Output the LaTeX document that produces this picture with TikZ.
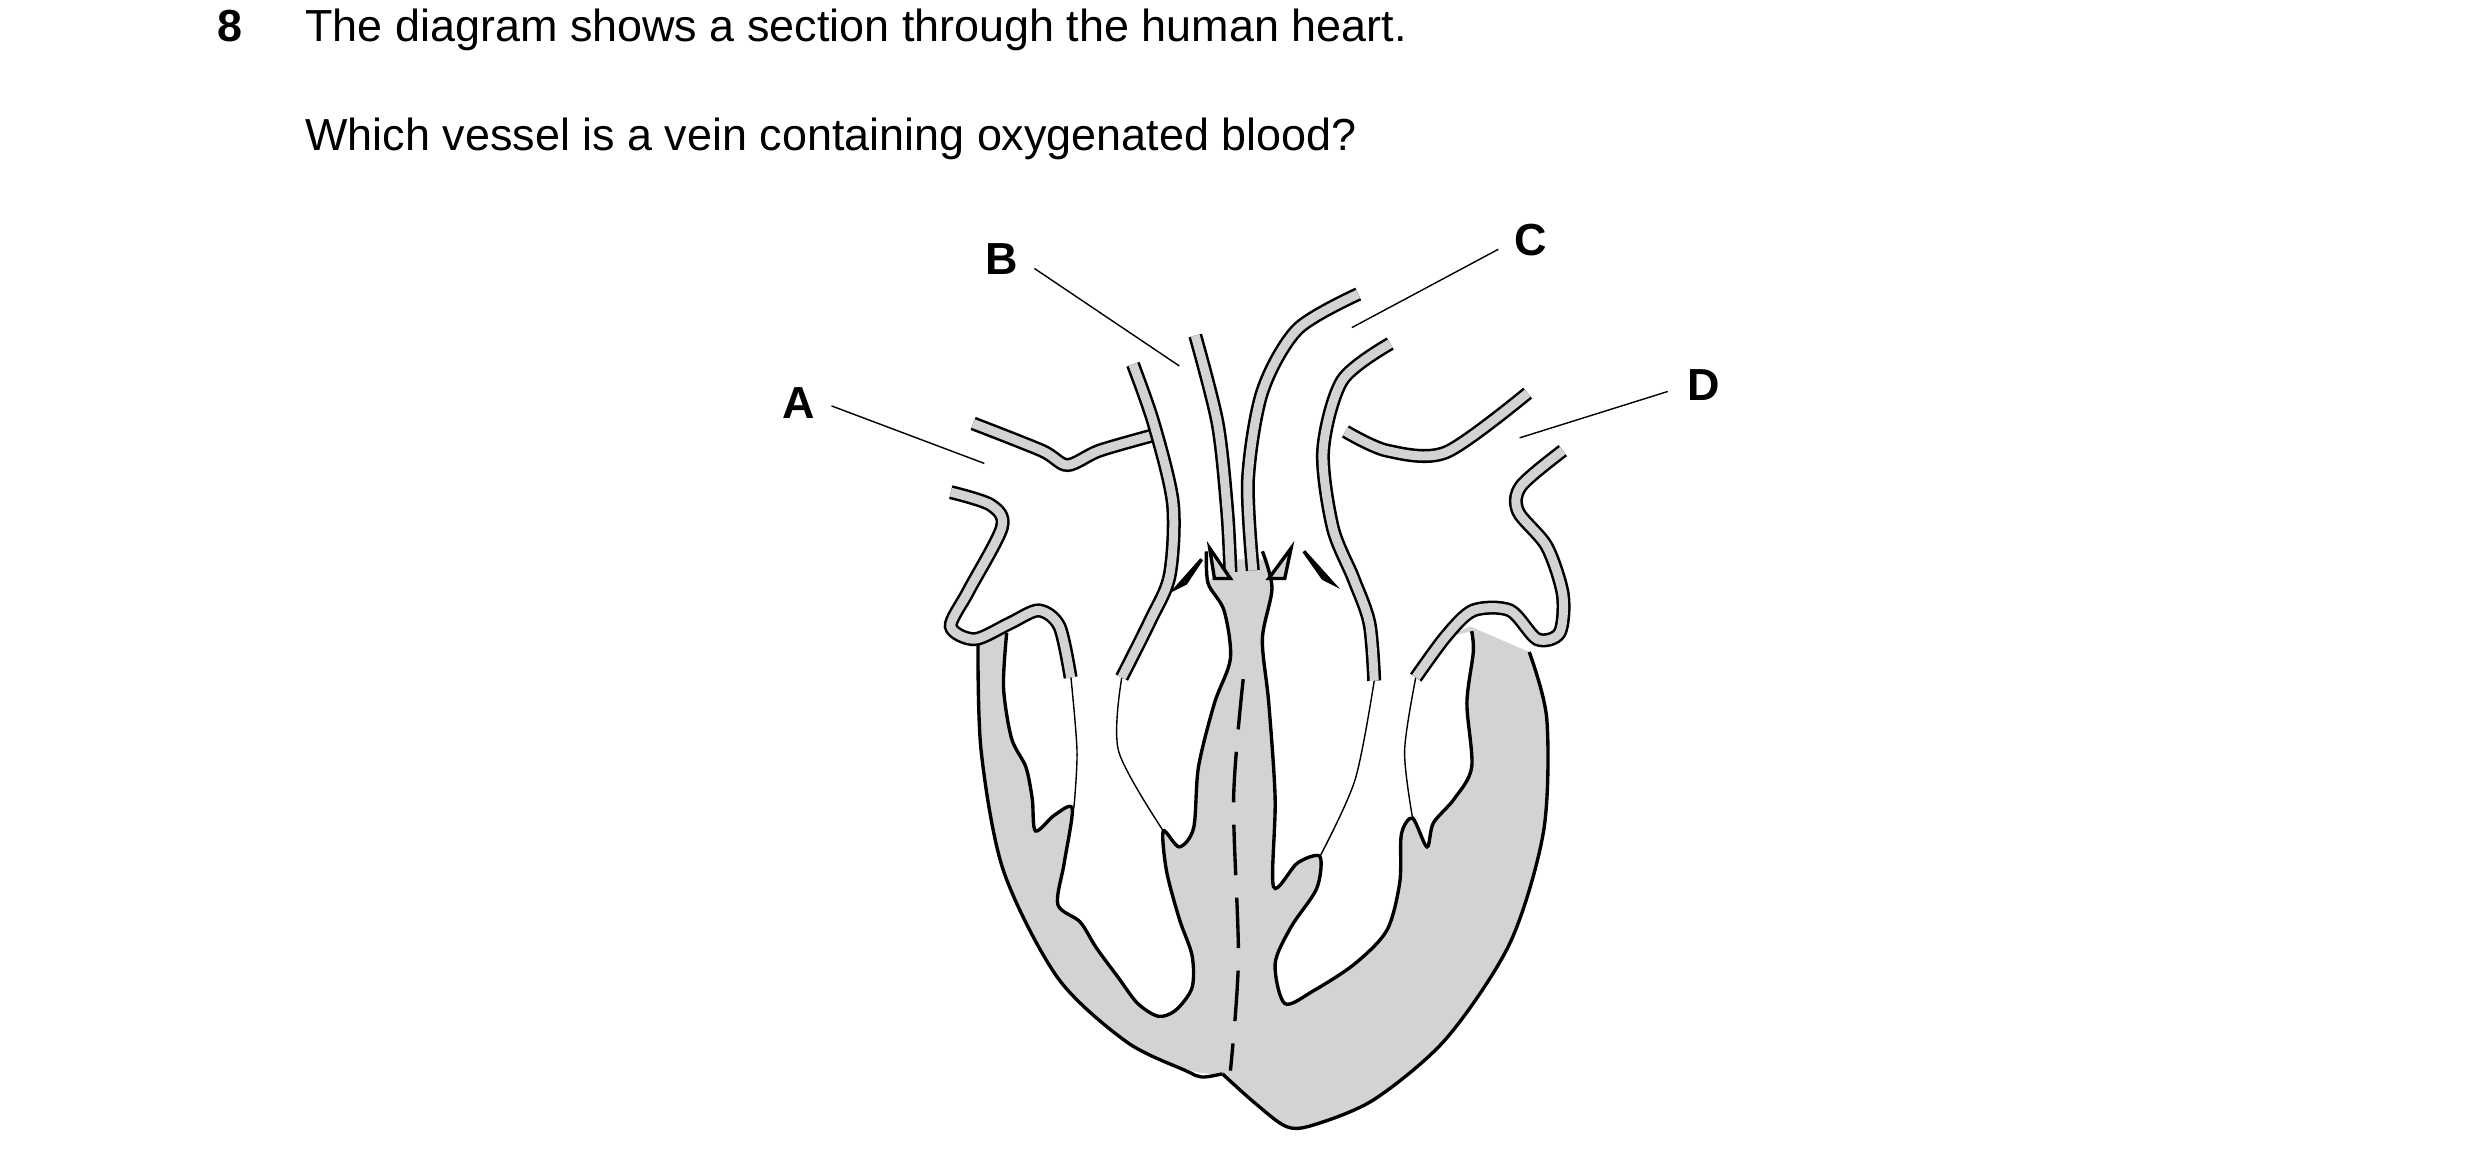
\documentclass[tikz,border=0pt]{standalone}
\usepackage{fontspec}
\setmainfont{Liberation Sans}
\definecolor{heartgray}{RGB}{209,211,212}
\tikzset{
  tube/.style={draw=black, line width=0.9pt, double=heartgray, double distance=3.2pt},
  wall/.style={draw=black, line width=1.2pt},
  leaf/.style={draw=black, line width=0.5pt},
  lbl/.style={font=\fontsize{16}{19}\selectfont\bfseries},
  pointer/.style={draw=black, line width=0.5pt}
}
\begin{document}
\begin{tikzpicture}[x=0.02cm, y=-0.02cm]
    \useasboundingbox (0,0) rectangle (1552,725);
    % question text
    \node[anchor=base west, font=\fontsize{16}{19}\selectfont\bfseries] (qnum) at (130,26) {8};
    \node[anchor=base west, font=\fontsize{16}{19}\selectfont] (qline) at (185,26) {The diagram shows a section through the human heart.};
    \node[anchor=base west, font=\fontsize{16}{19}\selectfont] (qask) at (185,94) {Which vessel is a vein containing oxygenated blood?};
    % heart wall
    \fill[heartgray] plot[smooth] coordinates {(612,400) (614,470) (628,545) (662,612) (705,652) (745,670) (765,672)}
        -- plot[smooth] coordinates {(765,672) (785,690) (805,705) (822,704) (860,688) (905,650) (945,590) (966,520) (968,450) (957,408)}
        -- (920,392) -- (860,420) -- (790,350) -- (770,350) -- (700,420) -- (630,396) -- cycle;
    \draw[wall] plot[smooth] coordinates {(612,400) (614,470) (628,545) (662,612) (705,652) (742,670) (752,674) (765,672)};
    \draw[wall] plot[smooth] coordinates {(765,672) (785,690) (805,705) (822,704) (860,688) (905,650) (945,590) (966,520) (968,450) (957,408)};
    % right side cavity
    \fill[white] plot[smooth] coordinates {(630,396) (628,430) (633,462) (642,480) (646,500) (648,520) (660,510) (671,506) (666,540) (662,566) (676,577) (686,593) (700,612) (712,628) (725,636) (736,632) (746,618) (746,598) (738,575) (730,545) (728,520) (738,530) (747,518) (750,480) (760,440) (770,412) (766,382) (756,365) (755,345)}
        -- (700,330) -- cycle;
    \draw[wall] plot[smooth] coordinates {(630,396) (628,430) (633,462) (642,480) (646,500) (648,520) (660,510) (671,506) (666,540) (662,566) (676,577) (686,593) (700,612) (712,628) (725,636) (736,632) (746,618) (746,598) (738,575) (730,545) (728,520) (738,530) (747,518) (750,480) (760,440) (770,412) (766,382) (756,365) (755,345)};
    % left side cavity
    \fill[white] plot[smooth] coordinates {(790,345) (796,368) (790,400) (794,440) (798,500) (797,555) (812,540) (826,536) (824,556) (808,580) (798,603) (804,628) (822,620) (848,603) (868,582) (876,552) (877,522) (884,512) (893,530) (897,515) (910,500) (921,480) (918,440) (922,408) (921,395)}
        -- (880,405) -- (830,340) -- cycle;
    \draw[wall] plot[smooth] coordinates {(790,345) (796,368) (790,400) (794,440) (798,500) (797,555) (812,540) (826,536) (824,556) (808,580) (798,603) (804,628) (822,620) (848,603) (868,582) (876,552) (877,522) (884,512) (893,530) (897,515) (910,500) (921,480) (918,440) (922,408) (921,395)};
    % valve leaflets
    \draw[leaf] plot[smooth] coordinates {(670,422) (674,470) (672,506)};
    \draw[leaf] plot[smooth] coordinates {(702,424) (700,470) (728,520)};
    \draw[leaf] plot[smooth] coordinates {(860,426) (848,488) (826,536)};
    \draw[leaf] plot[smooth] coordinates {(886,424) (879,470) (884,512)};
    % septum
    \draw[wall, dash pattern=on 18pt off 8pt] plot[smooth] coordinates {(778,425) (772,500) (775,600) (770,670)};
    % vessels
    \draw[tube] plot[smooth] coordinates {(595,308) (620,316) (627,330) (606,370) (595,392) (610,400) (632,390) (650,382) (663,392) (670,424)};
    \draw[tube] plot[smooth] coordinates {(609,265) (652,282) (668,291) (688,282) (723,272)};
    \draw[tube] plot[smooth] coordinates {(709,228) (722,265) (734,315) (732,360) (720,388) (702,424)};
    \draw[tube] plot[smooth] coordinates {(748,210) (762,265) (768,320) (770,358)};
    \draw[tube] plot[smooth] coordinates {(850,184) (812,206) (790,245) (781,300) (784,357)};
    \draw[tube] plot[smooth] coordinates {(870,215) (840,238) (828,282) (834,330) (847,362) (857,390) (860,426)};
    \draw[tube] plot[smooth] coordinates {(842,270) (868,282) (905,283) (956,246)};
    \draw[tube] plot[smooth] coordinates {(978,282) (952,304) (950,320) (968,342) (978,372) (976,396) (962,400) (945,382) (922,382) (905,398) (886,424)};
    % valve cusps
    \draw[wall, fill=heartgray] (757,343) -- (760,362) -- (770,362) -- cycle;
    \draw[wall, fill=heartgray] (808,343) -- (804,362) -- (794,362) -- cycle;
    \draw[wall, fill=heartgray] (752,350) -- (742,365) -- (736,368) -- cycle;
    \draw[wall, fill=heartgray] (816,345) -- (828,362) -- (834,365) -- cycle;
    % labels
    \node[lbl] (lblA) at (500,252) {A};
    \node[lbl] (lblB) at (627,162) {B};
    \node[lbl] (lblC) at (958,150) {C};
    \node[lbl] (lblD) at (1066,241) {D};
    \coordinate (tipA) at (616,290);
    \coordinate (tipB) at (738,229);
    \coordinate (tipC) at (846,205);
    \coordinate (tipD) at (951,274);
    \draw[pointer] (lblA.east) ++(4,2) -- (tipA);
    \draw[pointer] (lblB.east) ++(4,6) -- (tipB);
    \draw[pointer] (lblC.west) ++(-4,6) -- (tipC);
    \draw[pointer] (lblD.west) ++(-6,4) -- (tipD);
\end{tikzpicture}
\end{document}
